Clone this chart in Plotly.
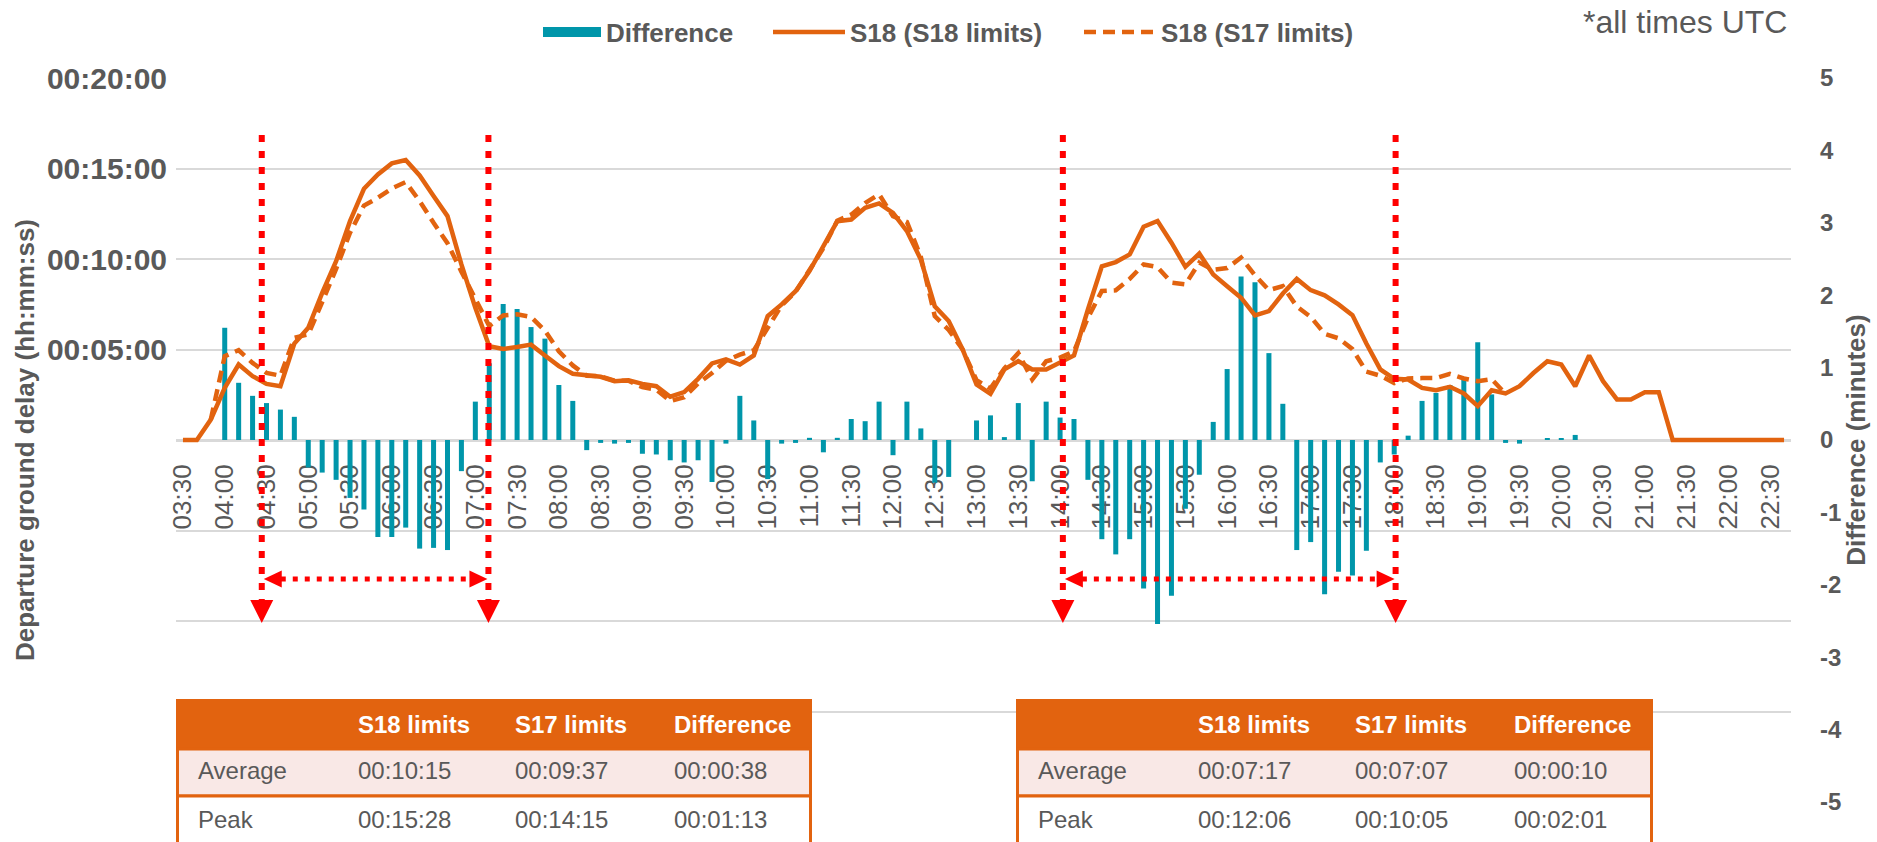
import plotly.graph_objects as go

# ---------------- data ----------------
categories = [
    "03:30", "03:40", "03:50",
    "04:00", "04:10", "04:20", "04:30", "04:40", "04:50",
    "05:00", "05:10", "05:20", "05:30", "05:40", "05:50",
    "06:00", "06:10", "06:20", "06:30", "06:40", "06:50",
    "07:00", "07:10", "07:20", "07:30", "07:40", "07:50",
    "08:00", "08:10", "08:20", "08:30", "08:40", "08:50",
    "09:00", "09:10", "09:20", "09:30", "09:40", "09:50",
    "10:00", "10:10", "10:20", "10:30", "10:40", "10:50",
    "11:00", "11:10", "11:20", "11:30", "11:40", "11:50",
    "12:00", "12:10", "12:20", "12:30", "12:40", "12:50",
    "13:00", "13:10", "13:20", "13:30", "13:40", "13:50",
    "14:00", "14:10", "14:20", "14:30", "14:40", "14:50",
    "15:00", "15:10", "15:20", "15:30", "15:40", "15:50",
    "16:00", "16:10", "16:20", "16:30", "16:40", "16:50",
    "17:00", "17:10", "17:20", "17:30", "17:40", "17:50",
    "18:00", "18:10", "18:20", "18:30", "18:40", "18:50",
    "19:00", "19:10", "19:20", "19:30", "19:40", "19:50",
    "20:00", "20:10", "20:20", "20:30", "20:40", "20:50",
    "21:00", "21:10", "21:20", "21:30", "21:40", "21:50",
    "22:00", "22:10", "22:20", "22:30", "22:40",
]

# departure ground delay, minutes (S18 with S18 limits)
s18_limits = [
    0, 0, 1.13,
    2.88, 4.17, 3.53, 3.10, 2.97, 5.33,
    6.20, 8.13, 9.88, 12.09, 13.88, 14.67,
    15.28, 15.47, 14.62, 13.48, 12.37, 9.70,
    7.30, 5.18, 5.03, 5.14, 5.27, 4.67,
    4.08, 3.66, 3.60, 3.49, 3.25, 3.30,
    3.10, 2.97, 2.39, 2.65, 3.38, 4.23,
    4.45, 4.17, 4.67, 6.84, 7.49, 8.22,
    9.33, 10.71, 12.09, 12.18, 12.83, 13.07,
    12.55, 11.54, 9.97, 7.39, 6.57, 5.00,
    3.07, 2.55, 3.90, 4.36, 3.90, 3.90,
    4.26, 4.67, 7.21, 9.60, 9.83, 10.25,
    11.78, 12.10, 10.90, 9.57, 10.30, 9.14,
    8.50, 7.86, 6.88, 7.12, 8.09, 8.90,
    8.28, 7.99, 7.49, 6.90, 5.33, 3.90,
    3.38, 3.34, 2.88, 2.75, 2.94, 2.57,
    1.87, 2.75, 2.57, 2.97, 3.70, 4.35,
    4.17, 2.97, 4.67, 3.25, 2.24, 2.24,
    2.64, 2.64, 0, 0, 0, 0,
    0, 0, 0, 0, 0,
]

# departure ground delay, minutes (S18 with S17 limits)
s17_limits = [
    None, None, 1.13,
    4.63, 4.96, 4.26, 3.71, 3.55, 5.65,
    5.83, 7.62, 9.45, 11.45, 12.95, 13.38,
    13.90, 14.25, 13.20, 12.00, 10.87, 9.30,
    7.80, 6.30, 6.88, 6.94, 6.80, 6.04,
    4.90, 4.12, 3.55, 3.52, 3.28, 3.27,
    2.92, 2.78, 2.15, 2.36, 3.12, 3.70,
    4.38, 4.72, 4.95, 6.25, 7.44, 8.18,
    9.36, 10.60, 12.12, 12.45, 13.09, 13.58,
    12.36, 12.05, 10.12, 6.85, 6.08, 5.00,
    3.30, 2.85, 3.95, 4.80, 3.34, 4.35,
    4.55, 4.90, 6.75, 8.23, 8.27, 8.90,
    9.70, 9.55, 8.70, 8.60, 9.80, 9.40,
    9.50, 10.08, 9.10, 8.28, 8.50, 7.38,
    6.80, 5.87, 5.62, 5.02, 3.78, 3.55,
    3.15, 3.40, 3.42, 3.42, 3.65, 3.40,
    3.25, 3.36, 2.55, None, None, None,
    None, None, None, None, None, None,
    None, None, None, None, None, None,
    None, None, None, None, None,
]

# difference, minutes (right axis)
difference = [
    0, 0, 0,
    1.55, 0.79, 0.61, 0.51, 0.42, 0.32,
    -0.38, -0.45, -0.55, -0.80, -0.96, -1.34,
    -1.34, -1.21, -1.50, -1.49, -1.52, -0.43,
    0.53, 1.06, 1.88, 1.81, 1.56, 1.40,
    0.76, 0.54, -0.14, -0.04, -0.05, -0.04,
    -0.19, -0.20, -0.28, -0.31, -0.28, -0.58,
    -0.05, 0.61, 0.27, -0.54, -0.05, -0.04,
    0.03, -0.17, 0.03, 0.29, 0.26, 0.53,
    -0.21, 0.53, 0.16, -0.59, -0.51, 0,
    0.27, 0.34, 0.04, 0.51, -0.57, 0.53,
    0.31, 0.29, -0.55, -1.37, -1.58, -1.37,
    -2.05, -2.54, -2.15, -0.95, -0.48, 0.25,
    0.98, 2.26, 2.18, 1.20, 0.50, -1.52,
    -1.41, -2.13, -1.82, -1.87, -1.53, -0.31,
    -0.20, 0.06, 0.54, 0.65, 0.76, 0.83,
    1.35, 0.63, -0.04, -0.05, 0, 0.02,
    0.02, 0.07, 0, 0, 0, 0,
    0, 0, 0, 0, 0, 0,
    0, 0, 0, 0, 0,
]

x_tick_labels = categories[0::3]
left_tick_values = [-20, -15, -10, -5, 0, 5, 10, 15, 20]
left_tick_labels = ["", "", "", "", "", "00:05:00", "00:10:00", "00:15:00", "00:20:00"]
right_tick_values = [-5, -4, -3, -2, -1, 0, 1, 2, 3, 4, 5]
right_tick_labels = ["-5", "-4", "-3", "-2", "-1", "0", "1", "2", "3", "4", "5"]

table_header = ["", "S18 limits", "S17 limits", "Difference"]
table1_rows = [["Average", "00:10:15", "00:09:37", "00:00:38"],
               ["Peak", "00:15:28", "00:14:15", "00:01:13"]]
table2_rows = [["Average", "00:07:17", "00:07:07", "00:00:10"],
               ["Peak", "00:12:06", "00:10:05", "00:02:01"]]

# comparison windows (category index positions)
windows = [(5.66, 21.94), (63.2, 87.1)]

# ---------------- styling ----------------
TEAL = "#0096AA"
ORANGE = "#E2630F"
GRAY = "#595959"
GRID = "#D9D9D9"
RED = "#FF0000"
PINK = "#F9E8E6"
FONT = "Liberation Sans, Arial, sans-serif"

W, H = 1877, 842
ML, MR, MT, MB = 176, 86, 78, 40
PW = W - ML - MR
PH = H - MT - MB
N = len(categories)


def px(x):
    return (x - ML) / PW


def py(y):
    return (H - MB - y) / PH


def cat_px(idx):
    return ML + (idx + 0.5) * PW / N


fig = go.Figure()

fig.add_trace(go.Bar(
    x=categories, y=difference, yaxis="y", name="Difference",
    marker=dict(color=TEAL, line=dict(width=0)), showlegend=False,
))
fig.add_trace(go.Scatter(
    x=[None], y=[None], yaxis="y", mode="lines", name="Difference",
    line=dict(color=TEAL, width=14), legend="legend",
))
fig.add_trace(go.Scatter(
    x=categories, y=s18_limits, yaxis="y2", mode="lines", name="S18 (S18 limits)",
    line=dict(color=ORANGE, width=4.5), legend="legend2",
))
fig.add_trace(go.Scatter(
    x=categories, y=s17_limits, yaxis="y2", mode="lines", name="S18 (S17 limits)",
    line=dict(color=ORANGE, width=4.5, dash="12px,7px"), connectgaps=False,
    legend="legend3",
))

shapes = []
annotations = []

# red dotted windows with arrows
for (a, b) in windows:
    xa, xb = cat_px(a), cat_px(b)
    for xv in (xa, xb):
        shapes.append(dict(type="line", xref="paper", yref="paper",
                           x0=px(xv), x1=px(xv), y0=py(135), y1=py(603),
                           line=dict(color=RED, width=6, dash="7px,9px"), layer="above"))
        shapes.append(dict(type="path", xref="paper", yref="paper",
                           path=f"M {px(xv-11.5)},{py(600)} L {px(xv+11.5)},{py(600)} L {px(xv)},{py(623)} Z",
                           fillcolor=RED, line=dict(width=0), layer="above"))
    ya = 579
    la, lb = xa + 2, xb - 1
    shapes.append(dict(type="line", xref="paper", yref="paper",
                       x0=px(la + 17), x1=px(lb - 17), y0=py(ya), y1=py(ya),
                       line=dict(color=RED, width=5, dash="5px,7px"), layer="above"))
    shapes.append(dict(type="path", xref="paper", yref="paper",
                       path=f"M {px(la)},{py(ya)} L {px(la+18)},{py(ya-8.5)} L {px(la+18)},{py(ya+8.5)} Z",
                       fillcolor=RED, line=dict(width=0), layer="above"))
    shapes.append(dict(type="path", xref="paper", yref="paper",
                       path=f"M {px(lb)},{py(ya)} L {px(lb-18)},{py(ya-8.5)} L {px(lb-18)},{py(ya+8.5)} Z",
                       fillcolor=RED, line=dict(width=0), layer="above"))

# tables
col_offsets = [20, 180, 337, 496]
row_edges = [699, 749, 796, 846]
for left, right, rows in ((176, 812, table1_rows), (1016, 1653, table2_rows)):
    shapes.append(dict(type="rect", xref="paper", yref="paper",
                       x0=px(left), x1=px(right), y0=py(row_edges[0]), y1=py(row_edges[1]),
                       fillcolor=ORANGE, line=dict(width=0), layer="above"))
    fills = [PINK, "white"]
    for r in range(2):
        shapes.append(dict(type="rect", xref="paper", yref="paper",
                           x0=px(left + 1.5), x1=px(right - 1.5),
                           y0=py(row_edges[r + 1]), y1=py(row_edges[r + 2]),
                           fillcolor=fills[r], line=dict(color=ORANGE, width=3), layer="above"))
    for c, txt in enumerate(table_header):
        if txt:
            annotations.append(dict(xref="paper", yref="paper", x=px(left + col_offsets[c]),
                                    y=py((row_edges[0] + row_edges[1]) / 2), text=f"<b>{txt}</b>",
                                    showarrow=False, xanchor="left", yanchor="middle",
                                    font=dict(family=FONT, size=24, color="white")))
    for r, row in enumerate(rows):
        for c, txt in enumerate(row):
            annotations.append(dict(xref="paper", yref="paper", x=px(left + col_offsets[c]),
                                    y=py((row_edges[r + 1] + row_edges[r + 2]) / 2 - 2), text=txt,
                                    showarrow=False, xanchor="left", yanchor="middle",
                                    font=dict(family=FONT, size=24, color=GRAY)))

annotations.append(dict(xref="paper", yref="paper", x=px(1789), y=py(22),
                        text="*all times UTC", showarrow=False, xanchor="right", yanchor="middle",
                        font=dict(family=FONT, size=32, color=GRAY)))

legend_font = dict(family=FONT, size=26, color=GRAY, weight="bold")


def legend_at(xpix, itemwidth):
    return dict(orientation="h", x=px(xpix), xanchor="left", y=py(32), yanchor="middle",
                font=legend_font, itemwidth=itemwidth, bgcolor="rgba(0,0,0,0)")


fig.update_layout(
    width=W, height=H,
    margin=dict(l=ML, r=MR, t=MT, b=MB, pad=0, autoexpand=False),
    paper_bgcolor="white", plot_bgcolor="white",
    font=dict(family=FONT, color=GRAY),
    bargap=0.64,
    showlegend=True,
    legend=legend_at(538, 58),
    legend2=legend_at(768, 72),
    legend3=legend_at(1079, 72),
    xaxis=dict(
        type="category", categoryorder="array", categoryarray=categories,
        range=[-0.5, N - 0.5],
        tickmode="array", tickvals=x_tick_labels, ticktext=x_tick_labels,
        tickangle=-90, tickfont=dict(family=FONT, size=26, color=GRAY),
        anchor="free", position=0.5,
        showline=True, linecolor=GRID, linewidth=3,
        showgrid=False, zeroline=False, ticks="", ticklabelstandoff=12,
        layer="below traces", fixedrange=True, automargin=False,
    ),
    yaxis=dict(
        side="right", range=[-5, 5], tickmode="array", tickvals=right_tick_values,
        ticktext=right_tick_labels,
        tickfont=dict(family=FONT, size=24, color=GRAY, weight="bold"),
        showgrid=False, zeroline=False, showline=False, ticks="", ticklabelstandoff=28,
        automargin=False,
        title=dict(text="Difference (minutes)", standoff=4,
                   font=dict(family=FONT, size=26, color=GRAY, weight="bold")),
    ),
    yaxis2=dict(
        overlaying="y", side="left", range=[-20, 20],
        tickmode="array", tickvals=left_tick_values, ticktext=left_tick_labels,
        tickfont=dict(family=FONT, size=30, color=GRAY, weight="bold"),
        showgrid=True, gridcolor=GRID, gridwidth=2,
        zeroline=False, showline=False, ticks="", ticklabelstandoff=8,
        automargin=False,
        title=dict(text="Departure ground delay (hh:mm:ss)", standoff=4,
                   font=dict(family=FONT, size=26, color=GRAY, weight="bold")),
    ),
    shapes=shapes,
    annotations=annotations,
)

fig.write_html("out.html", config={"displayModeBar": False},
               post_script="document.body.style.margin='0';document.body.style.overflow='hidden';")
